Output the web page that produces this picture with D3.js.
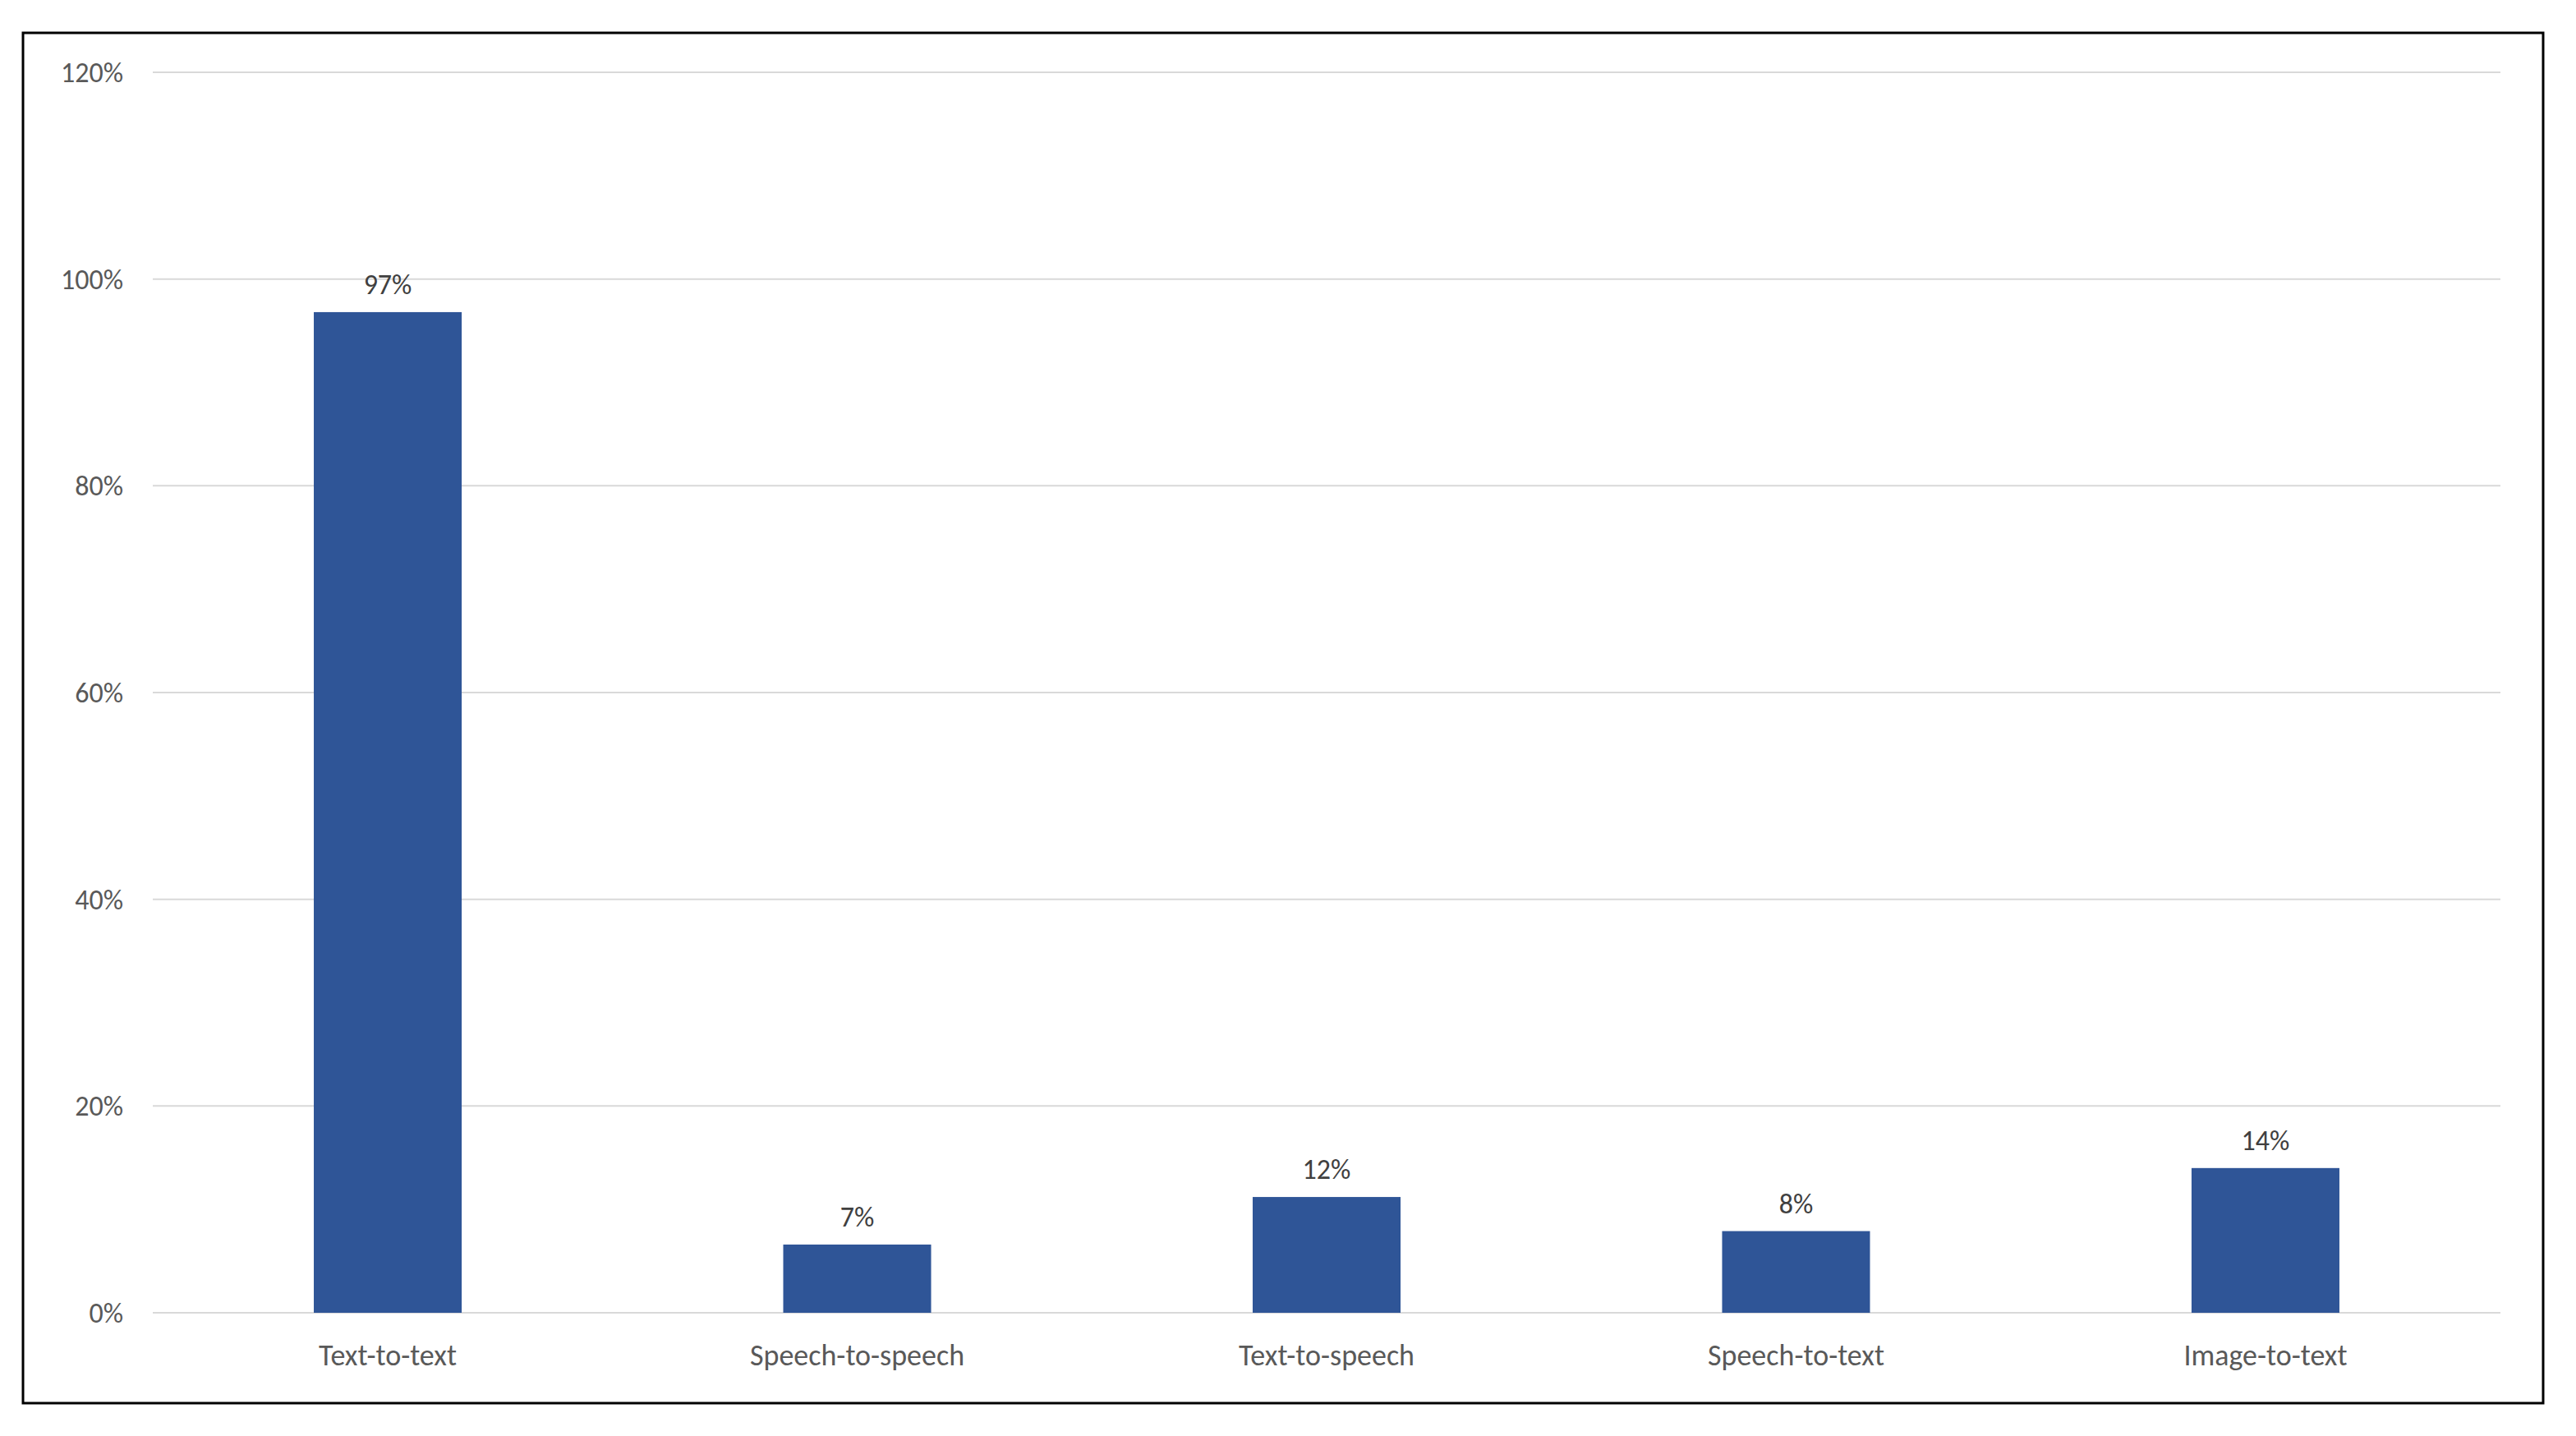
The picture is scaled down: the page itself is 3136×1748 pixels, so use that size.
<!DOCTYPE html>
<html><head><meta charset="utf-8">
<script src="https://cdn.jsdelivr.net/npm/d3@7"></script>
<style>body{margin:0;background:#fff}</style></head>
<body><svg id="c" width="3136" height="1748"></svg>
<script>
const categories = ["Text-to-text","Speech-to-speech","Text-to-speech","Speech-to-text","Image-to-text"];
const values = [0.968, 0.066, 0.112, 0.079, 0.14];
const labels = ["97%","7%","12%","8%","14%"];
const yTicks = [0,0.2,0.4,0.6,0.8,1.0,1.2];

const svg = d3.select("#c");
svg.append("rect").attr("x",28).attr("y",40).attr("width",3068).attr("height",1668)
  .attr("fill","#fff").attr("stroke","#000").attr("stroke-width",3);
const L=186,R=3044,T=88,B=1598;
const x = d3.scaleBand().domain(categories).range([L,R]).paddingInner(0.685).paddingOuter(0.343);
const y = d3.scaleLinear().domain([0,1.2]).range([B,T]);
const font="Calibri, 'Liberation Sans', Arial, sans-serif";
const g = svg.append("g").attr("font-family",font);
g.selectAll(".grid").data(yTicks).join("line")
  .attr("x1",L).attr("x2",R).attr("y1",d=>y(d)).attr("y2",d=>y(d))
  .attr("stroke","#d9d9d9").attr("stroke-width",2);
g.selectAll(".yt").data(yTicks).join("text")
  .attr("x",150).attr("y",d=>y(d)).attr("dy","0.35em").attr("text-anchor","end")
  .attr("font-size",34).attr("fill","#595959").text(d=>d3.format(".0%")(d));
g.selectAll(".bar").data(values).join("rect")
  .attr("x",(d,i)=>x(categories[i])).attr("width",x.bandwidth())
  .attr("y",d=>y(d)).attr("height",d=>B-y(d)).attr("fill","#2F5597");
g.selectAll(".lab").data(values).join("text")
  .attr("x",(d,i)=>x(categories[i])+x.bandwidth()/2).attr("y",d=>y(d)-22)
  .attr("text-anchor","middle").attr("font-size",34).attr("fill","#404040").text((d,i)=>labels[i]);
g.selectAll(".xt").data(categories).join("text")
  .attr("x",d=>x(d)+x.bandwidth()/2).attr("y",B+64).attr("text-anchor","middle")
  .attr("font-size",36).attr("fill","#595959").text(d=>d);
</script></body></html>
